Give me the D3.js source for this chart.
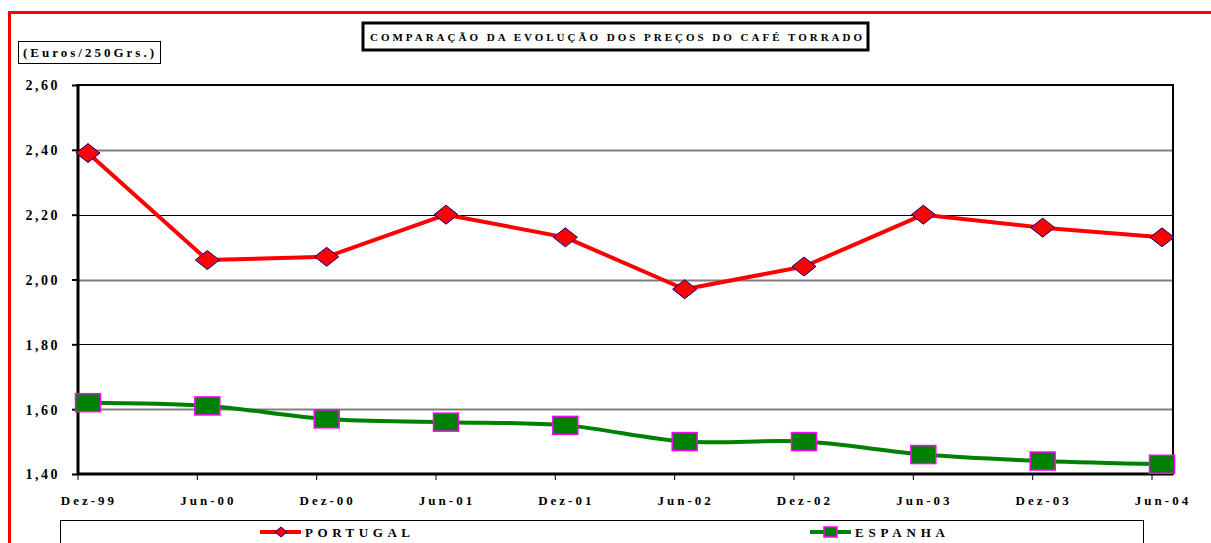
<!DOCTYPE html>
<html lang="pt">
<head>
<meta charset="UTF-8">
<title>Comparação da evolução dos preços do café torrado</title>
<script src="https://d3js.org/d3.v7.min.js"></script>
<style>
    body, html { margin: 0; padding: 0; overflow: hidden; background: #fff; }
    svg { display: block; }
    text { font-family: "Liberation Serif", "Times New Roman", serif; font-weight: bold; fill: #000; }
</style>
</head>
<body>
<svg id="chart" width="1211" height="543"></svg>
<script>
    const categories = ['Dez-99', 'Jun-00', 'Dez-00', 'Jun-01', 'Dez-01', 'Jun-02', 'Dez-02', 'Jun-03', 'Dez-03', 'Jun-04'];
    const portugal = [2.39, 2.06, 2.07, 2.20, 2.13, 1.97, 2.04, 2.20, 2.16, 2.13];
    const espanha = [1.62, 1.61, 1.57, 1.56, 1.55, 1.50, 1.50, 1.46, 1.44, 1.43];
    const yTicks = [1.40, 1.60, 1.80, 2.00, 2.20, 2.40, 2.60];
    const title = 'COMPARAÇÃO DA EVOLUÇÃO DOS PREÇOS DO CAFÉ TORRADO';
    const unitLabel = '(Euros/250Grs.)';

    const svg = d3.select('#chart');

    const plot = { left: 78, right: 1173, top: 85, bottom: 474 };

    const x = d3.scalePoint().domain(categories).range([88, 1162]);
    const y = d3.scaleLinear().domain([1.4, 2.6]).range([plot.bottom, plot.top]);

    // red outer frame (only top and left visible)
    svg.append('path')
        .attr('d', 'M9.5,545 L9.5,12.5 L1215,12.5')
        .attr('fill', 'none')
        .attr('stroke', '#ff0000')
        .attr('stroke-width', 3);

    // title box
    svg.append('rect')
        .attr('x', 363).attr('y', 23)
        .attr('width', 505).attr('height', 27)
        .attr('fill', '#fff').attr('stroke', '#000').attr('stroke-width', 3);
    svg.append('text')
        .attr('x', 370).attr('y', 41)
        .attr('font-size', 11)
        .attr('textLength', 492).attr('lengthAdjust', 'spacing')
        .text(title);

    // unit box
    svg.append('rect')
        .attr('x', 18.5).attr('y', 41.5)
        .attr('width', 142).attr('height', 22)
        .attr('fill', '#fff').attr('stroke', '#000').attr('stroke-width', 1);
    svg.append('text')
        .attr('x', 23).attr('y', 57)
        .attr('font-size', 13)
        .attr('textLength', 131).attr('lengthAdjust', 'spacing')
        .text(unitLabel);

    // gridlines
    svg.append('g')
        .selectAll('line')
        .data(yTicks.filter(d => d > 1.4 && d < 2.6))
        .enter().append('line')
        .attr('x1', plot.left).attr('x2', plot.right)
        .attr('y1', d => Math.round(y(d)) + 0.5)
        .attr('y2', d => Math.round(y(d)) + 0.5)
        .attr('stroke', (d, i) => i % 2 === 0 ? '#808080' : '#000')
        .attr('stroke-width', (d, i) => i % 2 === 0 ? 2 : 1);

    // y axis
    const yAxis = svg.append('g')
        .attr('transform', `translate(${plot.left},0)`)
        .call(d3.axisLeft(y).tickValues(yTicks).tickSize(6).tickPadding(12)
            .tickFormat(d => d3.format('.2f')(d).replace('.', ',')));
    yAxis.select('.domain').remove();
    yAxis.selectAll('line').attr('stroke', '#000').attr('stroke-width', 2);
    yAxis.selectAll('text')
        .attr('font-size', 14)
        .attr('font-family', '"Liberation Serif", serif')
        .attr('font-weight', 'bold')
        .style('letter-spacing', '2.5px')
        .attr('dy', '0.35em');

    // plot frame
    svg.append('rect')
        .attr('x', plot.left).attr('y', plot.top)
        .attr('width', plot.right - plot.left).attr('height', plot.bottom - plot.top)
        .attr('fill', 'none').attr('stroke', '#000').attr('stroke-width', 2);
    svg.append('line')
        .attr('x1', plot.left).attr('x2', plot.left)
        .attr('y1', plot.top - 1).attr('y2', plot.bottom + 1)
        .attr('stroke', '#000').attr('stroke-width', 3);
    svg.append('line')
        .attr('x1', plot.left).attr('x2', plot.right)
        .attr('y1', plot.bottom).attr('y2', plot.bottom)
        .attr('stroke', '#000').attr('stroke-width', 3);

    // x ticks and labels
    const xg = svg.append('g');
    xg.selectAll('line')
        .data(categories)
        .enter().append('line')
        .attr('x1', d => x(d) - 10).attr('x2', d => x(d) - 10)
        .attr('y1', plot.bottom).attr('y2', plot.bottom + 6)
        .attr('stroke', '#000').attr('stroke-width', 1);
    xg.selectAll('text')
        .data(categories)
        .enter().append('text')
        .attr('x', d => x(d) + 1)
        .attr('y', 505)
        .attr('text-anchor', 'middle')
        .attr('font-size', 13)
        .style('letter-spacing', '3px')
        .text(d => d);

    // lines
    const lineStraight = d3.line()
        .x((d, i) => x(categories[i]))
        .y(d => y(d));
    const lineSmooth = d3.line()
        .x((d, i) => x(categories[i]))
        .y(d => y(d))
        .curve(d3.curveCatmullRom.alpha(0));

    svg.append('path')
        .datum(portugal)
        .attr('d', lineStraight)
        .attr('fill', 'none').attr('stroke', '#ff0000').attr('stroke-width', 4)
        .attr('stroke-linejoin', 'round');

    svg.append('path')
        .datum(espanha)
        .attr('d', lineSmooth)
        .attr('fill', 'none').attr('stroke', '#008000').attr('stroke-width', 4);

    const diamond = (cx, cy, w, h) =>
        `M${cx - w / 2},${cy} L${cx},${cy - h / 2} L${cx + w / 2},${cy} L${cx},${cy + h / 2} Z`;

    svg.append('g')
        .selectAll('path')
        .data(portugal)
        .enter().append('path')
        .attr('d', (d, i) => diamond(x(categories[i]), y(d), 24, 19))
        .attr('fill', '#ff0000').attr('stroke', '#000080').attr('stroke-width', 1);

    svg.append('g')
        .selectAll('rect')
        .data(espanha)
        .enter().append('rect')
        .attr('x', (d, i) => x(categories[i]) - 12.5)
        .attr('y', d => y(d) - 9)
        .attr('width', 25).attr('height', 18)
        .attr('fill', '#008000').attr('stroke', '#ff00ff').attr('stroke-width', 1.5);

    // legend
    svg.append('rect')
        .attr('x', 60.5).attr('y', 520.5)
        .attr('width', 1083).attr('height', 40)
        .attr('fill', '#fff').attr('stroke', '#000').attr('stroke-width', 1);

    const legend = [
        { name: 'PORTUGAL', x: 260, color: '#ff0000', width: 105 },
        { name: 'ESPANHA', x: 810, color: '#008000', width: 90 }
    ];
    const lg = svg.append('g');
    legend.forEach((item, k) => {
        lg.append('line')
            .attr('x1', item.x).attr('x2', item.x + 41)
            .attr('y1', 532).attr('y2', 532)
            .attr('stroke', item.color).attr('stroke-width', 4);
        if (k === 0) {
            lg.append('path')
                .attr('d', diamond(item.x + 21, 532, 12, 10))
                .attr('fill', '#ff0000').attr('stroke', '#000080').attr('stroke-width', 1);
        } else {
            lg.append('rect')
                .attr('x', item.x + 14).attr('y', 527)
                .attr('width', 13).attr('height', 10)
                .attr('fill', '#008000').attr('stroke', '#ff00ff').attr('stroke-width', 1.5);
        }
        lg.append('text')
            .attr('x', item.x + 45).attr('y', 537)
            .attr('font-size', 13)
            .attr('textLength', item.width).attr('lengthAdjust', 'spacing')
            .text(item.name);
    });
</script>
</body>
</html>
